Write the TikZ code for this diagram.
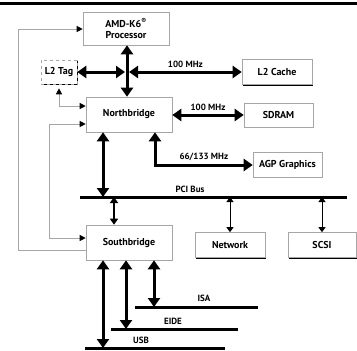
\documentclass[tikz,border=0pt]{standalone}
\usepackage{fontspec}
\setmainfont{PT Sans}
\usetikzlibrary{arrows.meta,shadows}
\tikzset{
  box/.style={draw=gray!70, line width=0.6pt, fill=white, inner sep=0pt,
    font=\bfseries\fontsize{10}{11}\selectfont, align=center,
    drop shadow={shadow xshift=1.4pt, shadow yshift=-1.4pt, opacity=1, fill=black}},
  bus/.style={line width=3pt},
  fatarrow/.style={line width=3pt, {Triangle[length=9pt,width=12pt]}-{Triangle[length=9pt,width=12pt]}},
  midarrow/.style={line width=2pt, {Triangle[length=6pt,width=8pt]}-{Triangle[length=6pt,width=8pt]}},
  slimarrow/.style={line width=1pt, {Triangle[length=5pt,width=7pt]}-{Triangle[length=5pt,width=7pt]}},
  wire/.style={draw=gray!70, line width=0.8pt},
  wtip/.tip={Triangle[length=6pt,width=6pt,black]},
  lbl/.style={font=\bfseries\fontsize{9}{10}\selectfont, inner sep=0pt}
}
\begin{document}
\begin{tikzpicture}[x=1pt,y=-1pt]
\useasboundingbox (0,0) rectangle (357,351);
\draw[bus] (0,3) -- (357,3);

% boxes
\node[box, minimum width=86pt, minimum height=33pt] (proc) at (126,28.5) {AMD-K6\textsuperscript{®}\\Processor};
\node[box, minimum width=36pt, minimum height=24pt, dashed, drop shadow={opacity=0}] (l2tag) at (59,72) {L2 Tag};
\node[box, minimum width=70pt, minimum height=25pt] (l2cache) at (277,72) {L2 Cache};
\node[box, minimum width=86pt, minimum height=35pt] (nb) at (129,114.5) {Northbridge};
\node[box, minimum width=69pt, minimum height=24pt] (sdram) at (278.5,115) {SDRAM};
\node[box, minimum width=69pt, minimum height=25pt] (agp) at (287.5,164.5) {AGP Graphics};
\node[box, minimum width=86pt, minimum height=35pt] (sb) at (129,242.5) {Southbridge};
\node[box, minimum width=70pt, minimum height=25pt] (net) at (230,245) {Network};
\node[box, minimum width=68pt, minimum height=25pt] (scsi) at (322,245) {SCSI};

% processor bus
\coordinate (cross) at (127,72);
\draw[fatarrow] (proc.south -| cross) -- (nb.north -| cross);
\draw[fatarrow] (l2tag.east) -- ([xshift=-2pt]cross);
\draw[fatarrow] ([xshift=2pt]cross) -- (l2cache.west) node[lbl, midway, above=3pt] {100 MHz};
\draw[fatarrow] (nb.east |- sdram) -- (sdram.west) node[lbl, midway, above=3pt] {100 MHz};
\coordinate (agpturn) at (155,165);
\draw[fatarrow] (nb.south -| agpturn) -- (agpturn) -- (agp.west |- agpturn) node[lbl, midway, above=3pt] {66/133 MHz};

% PCI bus
\coordinate (pciL) at (80,197);
\coordinate (pciR) at (347,197);
\draw[bus] (pciL) -- (pciR);
\node[lbl] (pcilbl) at (190,189) {PCI Bus};
\draw[fatarrow] (103,0 |- nb.south) -- (103,0 |- pciL);
\draw[midarrow] (114,0 |- pciL) -- (114,0 |- sb.north);
\draw[slimarrow] (net.north |- pciL) -- (net.north);
\draw[slimarrow] (scsi.north |- pciL) -- (scsi.north);

% side wires
\draw[wire, -wtip] (sb.west |- 0,250) -- (18,250) -- (18,29) -- (proc.west |- 0,29);
\draw[wire, wtip-wtip] (nb.west |- 0,124) -- (49,124) -- (49,238) -- (sb.west |- 0,238);
\draw[wire, wtip-wtip, shorten <=4pt] (l2tag.south) -- (59,106) -- (nb.west |- 0,106);

% southbridge buses
\foreach \bus/\xl/\xr/\y/\xa/\txt/\tx/\ty in {usb/85/225/348/103/USB/141/340, eide/111/238/329/126/EIDE/173/321, isa/135/258/307/154/ISA/204/298}{
  \draw[bus] (\xl,\y) coordinate (\bus) -- (\xr,\y);
  \node[lbl] (\bus lbl) at (\tx,\ty) {\txt};
  \draw[fatarrow] (\xa,0 |- sb.south) -- (\xa,0 |- \bus);
}
\end{tikzpicture}
\end{document}
